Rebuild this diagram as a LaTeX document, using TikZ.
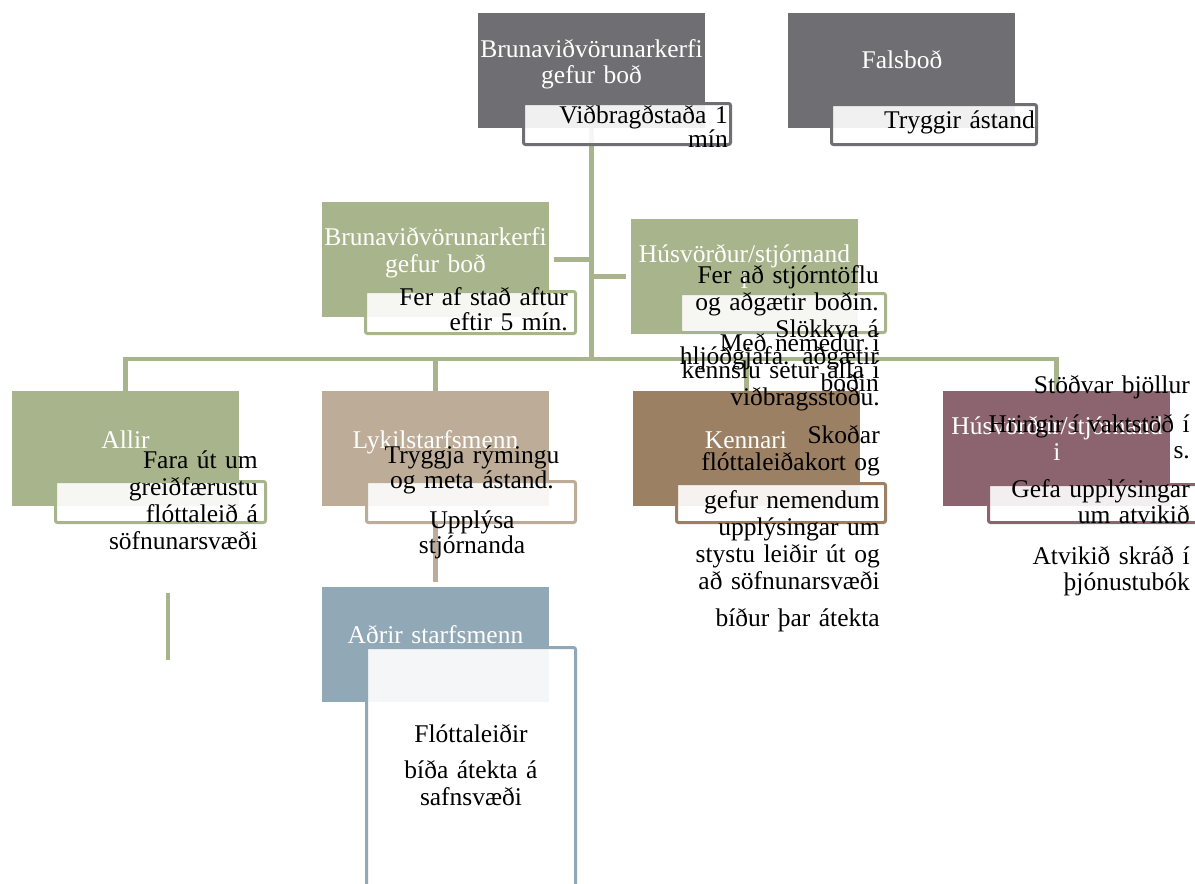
\documentclass[tikz,border=0pt]{standalone}
\usepackage{fontspec}
\setmainfont{Liberation Serif}
\definecolor{cgray}{HTML}{6F6E73}
\definecolor{cgreen}{HTML}{A8B58C}
\definecolor{ctan}{HTML}{BDAC97}
\definecolor{cbrown}{HTML}{9B8064}
\definecolor{cmauve}{HTML}{8C6470}
\definecolor{cblue}{HTML}{91A8B7}
\begin{document}
\begin{tikzpicture}[x=1pt,y=-1pt,
  mbox/.style={minimum width=227pt, minimum height=115pt, inner sep=0pt, outer sep=0pt, anchor=north west, fill=#1},
  sbox/.style={inner sep=0pt, outer sep=0pt, anchor=north west, draw=#1, fill=white, fill opacity=0.9, line width=3pt, rounded corners=2pt},
  conn/.style={line width=4.5pt, draw=cgreen},
  wht/.style={text=white, inner sep=0pt, text width=330pt, align=center, anchor=base},
  blk/.style={text=black, inner sep=0pt, text width=330pt, align=right, anchor=base east},
  blkc/.style={text=black, inner sep=0pt, text width=330pt, align=center, anchor=base},
  fa/.style={font=\fontsize{25.5}{27}\selectfont}]
\useasboundingbox (0,0) rectangle (1195,884);
\clip (0,0) rectangle (1195,884);
% main boxes
\node[mbox=cgray] (A) at (478,13) {};
\node[mbox=cgray] (B) at (788,13) {};
\node[mbox=cgreen] (C) at (322,202) {};
\node[mbox=cgreen] (D) at (631,219) {};
\node[mbox=cgreen] (allir) at (12,391) {};
\node[mbox=ctan] (lykil) at (322,391) {};
\node[mbox=cbrown] (kenn) at (633,391) {};
\node[mbox=cmauve] (husR) at (943,391) {};
\node[mbox=cblue] (adrir) at (322,587) {};
% connectors
\coordinate (hub) at (591.5,359);
\coordinate (s1) at (168,593);
\coordinate (s2) at (168,660);
\begin{scope}[on background layer/.style={}]
\end{scope}
\draw[conn] (A.south) -- (A.south |- hub);
\draw[conn] ([xshift=5pt]C.east) -- (C.east -| hub);
\draw[conn] ([xshift=-5pt]D.west) -- (D.west -| hub);
\draw[conn] (allir.north) -- (allir.north |- hub) -- (husR.north |- hub) -- (husR.north);
\draw[conn] (lykil.north) -- (lykil.north |- hub);
\draw[conn] (kenn.north) -- (kenn.north |- hub);
\draw[conn] (s1) -- (s2);
% sub boxes
\node[sbox=cgray, minimum width=207pt, minimum height=41pt] (As) at (523.5,103.5) {};
\node[sbox=cgray, minimum width=205pt, minimum height=40pt] (Bs) at (831.5,104.5) {};
\node[sbox=cgreen, minimum width=210pt, minimum height=42pt] (Cs) at (365.5,291.5) {};
\node[sbox=cgreen, minimum width=205pt, minimum height=39pt] (Ds) at (680.5,293.5) {};
\node[sbox=cgreen, minimum width=210pt, minimum height=41pt] (allirS) at (55.5,481.5) {};
\node[sbox=ctan, minimum width=209pt, minimum height=41pt] (lykilS) at (366.5,481.5) {};
\node[sbox=cbrown, minimum width=209pt, minimum height=39pt] (kennS) at (676.5,483.5) {};
\node[sbox=cmauve, minimum width=210pt, minimum height=38pt] (husS) at (988.5,484.5) {};
\node[sbox=cblue, minimum width=209pt, minimum height=260pt] (adrirS) at (366.5,647.5) {};
\draw[line width=4.5pt, draw=ctan] (lykilS.south -| lykil.south) -- ([yshift=5pt]adrir.north);
% white labels
\node[wht, font=\fontsize{25.5}{26}\selectfont] (tA) at (591.5,57) {Brunaviðvörunarkerfi\\gefur boð};
\node[wht, fa] (tB) at (902,68) {Falsboð};
\node[wht, fa] (tC) at (435.5,245) {Brunaviðvörunarkerfi\\gefur boð};
\node[wht, font=\fontsize{25.5}{26}\selectfont] (tD) at (744.5,262) {Húsvörður/stjórnand\\i};
\node[wht, fa] (tAllir) at (125.5,448) {Allir};
\node[wht, fa] (tLykil) at (435.5,448) {Lykilstarfsmenn};
\node[wht, fa] (tKenn) at (746,448) {Kennari};
\node[wht, font=\fontsize{25.5}{26}\selectfont] (tHus) at (1057,434) {Húsvörður/stjórnand\\i};
\node[wht, fa] (tAdrir) at (435.5,643) {Aðrir starfsmenn};
% black texts
\node[blk, font=\fontsize{25.5}{21}\selectfont] (bA) at (728,123) {Viðbragðstaða 1\\mín};
\node[blk, fa] (bB) at (1035,128) {Tryggir ástand};
\node[blk, font=\fontsize{25.5}{25}\selectfont] (bC) at (568,305) {Fer af stað aftur\\eftir 5 mín.};
\node[blk, fa] (bD) at (879,283) {Fer að stjórntöflu\\og aðgætir boðin.\\Slökkva á\\hljóðgjafa. aðgætir\\boðin};
\node[blk, fa] (bKenn) at (880,351) {Með nemedur í\\kennslu setur alla í\\viðbragsstöðu.\\[11pt]Skoðar\\flóttaleiðakort og\\[11pt]gefur nemendum\\upplýsingar um\\stystu leiðir út og\\að söfnunarsvæði\\[10pt]bíður þar átekta};
\node[blk, fa] (bAllir) at (258,468) {Fara út um\\greiðfærustu\\flóttaleið á\\söfnunarsvæði};
\node[blkc, font=\fontsize{25.5}{25.5}\selectfont] (bLykil) at (472,463) {Tryggja rýmingu\\og meta ástand.\\[14pt]Upplýsa\\stjórnanda};
\node[blkc, fa] (bAdrir) at (471,742) {Flóttaleiðir\\[9pt]bíða átekta á\\safnsvæði};
\node[blk, font=\fontsize{25.5}{26}\selectfont] (bHus) at (1190,393) {Stöðvar bjöllur\\[13pt]Hringir í vaktstöð í\\s.\\[13pt]Gefa upplýsingar\\um atvikið\\[15pt]Atvikið skráð í\\þjónustubók};
\end{tikzpicture}
\end{document}
